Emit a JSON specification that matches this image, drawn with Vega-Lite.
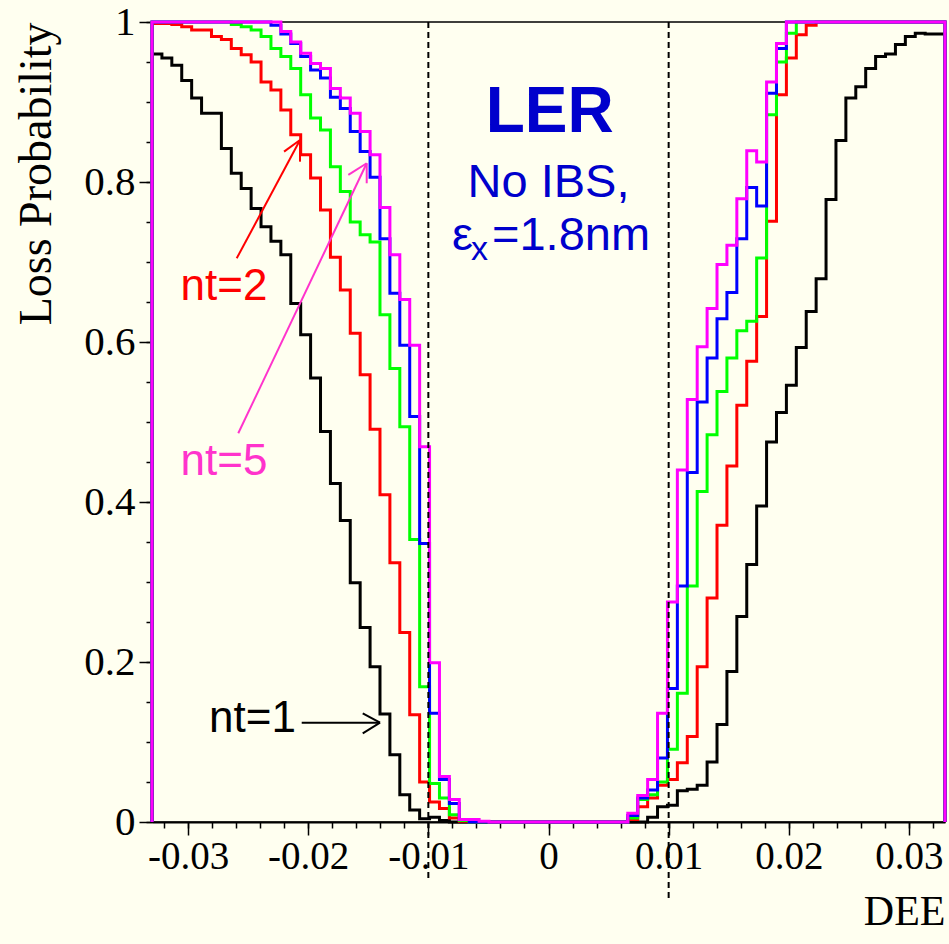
{
"$schema": "https://vega.github.io/schema/vega-lite/v6.json",
"width": 793, "height": 800,
"autosize": {"type": "none"},
"padding": {"left": 152, "top": 22, "right": 4, "bottom": 122},
"background": "#fffff0",
"config": {"view": {"stroke": "#000000", "strokeWidth": 1.5}, "font": "Liberation Serif"},
"datasets": {
"hist": [
{"nt":"1","i":-1,"x":-0.033,"p":0},{"nt":"1","i":0,"x":-0.033,"p":0.96},{"nt":"1","i":1,"x":-0.032175,"p":0.955},{"nt":"1","i":2,"x":-0.03135,"p":0.946},{"nt":"1","i":3,"x":-0.030525,"p":0.927},{"nt":"1","i":4,"x":-0.0297,"p":0.905},{"nt":"1","i":5,"x":-0.028875,"p":0.886},{"nt":"1","i":7,"x":-0.027225,"p":0.842},{"nt":"1","i":8,"x":-0.0264,"p":0.811},{"nt":"1","i":9,"x":-0.025575,"p":0.792},{"nt":"1","i":10,"x":-0.02475,"p":0.767},{"nt":"1","i":11,"x":-0.023925,"p":0.744},{"nt":"1","i":12,"x":-0.0231,"p":0.726},{"nt":"1","i":13,"x":-0.022275,"p":0.709},{"nt":"1","i":14,"x":-0.02145,"p":0.648},{"nt":"1","i":15,"x":-0.020625,"p":0.609},{"nt":"1","i":16,"x":-0.0198,"p":0.555},{"nt":"1","i":17,"x":-0.018975,"p":0.488},{"nt":"1","i":18,"x":-0.01815,"p":0.423},{"nt":"1","i":19,"x":-0.017325,"p":0.377},{"nt":"1","i":20,"x":-0.0165,"p":0.299},{"nt":"1","i":21,"x":-0.015675,"p":0.243},{"nt":"1","i":22,"x":-0.01485,"p":0.194},{"nt":"1","i":23,"x":-0.014025,"p":0.135},{"nt":"1","i":24,"x":-0.0132,"p":0.084},{"nt":"1","i":25,"x":-0.012375,"p":0.034},{"nt":"1","i":26,"x":-0.01155,"p":0.015},{"nt":"1","i":27,"x":-0.010725,"p":0.004},{"nt":"1","i":28,"x":-0.0099,"p":0.006},{"nt":"1","i":29,"x":-0.009075,"p":0.002},{"nt":"1","i":30,"x":-0.00825,"p":0},{"nt":"1","i":50,"x":0.00825,"p":0.006},{"nt":"1","i":51,"x":0.009075,"p":0.019},{"nt":"1","i":52,"x":0.0099,"p":0.021},{"nt":"1","i":53,"x":0.010725,"p":0.039},{"nt":"1","i":54,"x":0.01155,"p":0.041},{"nt":"1","i":55,"x":0.012375,"p":0.046},{"nt":"1","i":56,"x":0.0132,"p":0.075},{"nt":"1","i":57,"x":0.014025,"p":0.122},{"nt":"1","i":58,"x":0.01485,"p":0.188},{"nt":"1","i":59,"x":0.015675,"p":0.257},{"nt":"1","i":60,"x":0.0165,"p":0.322},{"nt":"1","i":61,"x":0.017325,"p":0.395},{"nt":"1","i":62,"x":0.01815,"p":0.475},{"nt":"1","i":63,"x":0.018975,"p":0.512},{"nt":"1","i":64,"x":0.0198,"p":0.546},{"nt":"1","i":65,"x":0.020625,"p":0.593},{"nt":"1","i":66,"x":0.02145,"p":0.638},{"nt":"1","i":67,"x":0.022275,"p":0.679},{"nt":"1","i":68,"x":0.0231,"p":0.778},{"nt":"1","i":69,"x":0.023925,"p":0.852},{"nt":"1","i":70,"x":0.02475,"p":0.905},{"nt":"1","i":71,"x":0.025575,"p":0.919},{"nt":"1","i":72,"x":0.0264,"p":0.942},{"nt":"1","i":73,"x":0.027225,"p":0.957},{"nt":"1","i":74,"x":0.02805,"p":0.96},{"nt":"1","i":75,"x":0.028875,"p":0.972},{"nt":"1","i":76,"x":0.0297,"p":0.982},{"nt":"1","i":77,"x":0.030525,"p":0.986},{"nt":"1","i":78,"x":0.03135,"p":0.985},{"nt":"1","i":80,"x":0.033,"p":0.985},{"nt":"1","i":81,"x":0.033,"p":0},
{"nt":"2","i":-1,"x":-0.033,"p":0},{"nt":"2","i":0,"x":-0.033,"p":0.998},{"nt":"2","i":2,"x":-0.03135,"p":0.997},{"nt":"2","i":3,"x":-0.030525,"p":0.994},{"nt":"2","i":4,"x":-0.0297,"p":0.99},{"nt":"2","i":6,"x":-0.02805,"p":0.982},{"nt":"2","i":7,"x":-0.027225,"p":0.978},{"nt":"2","i":8,"x":-0.0264,"p":0.967},{"nt":"2","i":9,"x":-0.025575,"p":0.959},{"nt":"2","i":10,"x":-0.02475,"p":0.95},{"nt":"2","i":11,"x":-0.023925,"p":0.925},{"nt":"2","i":12,"x":-0.0231,"p":0.915},{"nt":"2","i":13,"x":-0.022275,"p":0.89},{"nt":"2","i":14,"x":-0.02145,"p":0.859},{"nt":"2","i":15,"x":-0.020625,"p":0.834},{"nt":"2","i":16,"x":-0.0198,"p":0.805},{"nt":"2","i":17,"x":-0.018975,"p":0.765},{"nt":"2","i":18,"x":-0.01815,"p":0.706},{"nt":"2","i":19,"x":-0.017325,"p":0.665},{"nt":"2","i":20,"x":-0.0165,"p":0.611},{"nt":"2","i":21,"x":-0.015675,"p":0.559},{"nt":"2","i":22,"x":-0.01485,"p":0.491},{"nt":"2","i":23,"x":-0.014025,"p":0.409},{"nt":"2","i":24,"x":-0.0132,"p":0.324},{"nt":"2","i":25,"x":-0.012375,"p":0.237},{"nt":"2","i":26,"x":-0.01155,"p":0.134},{"nt":"2","i":27,"x":-0.010725,"p":0.05},{"nt":"2","i":28,"x":-0.0099,"p":0.025},{"nt":"2","i":29,"x":-0.009075,"p":0.017},{"nt":"2","i":30,"x":-0.00825,"p":0.005},{"nt":"2","i":31,"x":-0.007425,"p":0.001},{"nt":"2","i":32,"x":-0.0066,"p":0},{"nt":"2","i":48,"x":0.0066,"p":0.003},{"nt":"2","i":49,"x":0.007425,"p":0.019},{"nt":"2","i":50,"x":0.00825,"p":0.03},{"nt":"2","i":51,"x":0.009075,"p":0.046},{"nt":"2","i":52,"x":0.0099,"p":0.053},{"nt":"2","i":53,"x":0.010725,"p":0.074},{"nt":"2","i":54,"x":0.01155,"p":0.107},{"nt":"2","i":55,"x":0.012375,"p":0.194},{"nt":"2","i":56,"x":0.0132,"p":0.28},{"nt":"2","i":57,"x":0.014025,"p":0.371},{"nt":"2","i":58,"x":0.01485,"p":0.445},{"nt":"2","i":59,"x":0.015675,"p":0.521},{"nt":"2","i":60,"x":0.0165,"p":0.576},{"nt":"2","i":61,"x":0.017325,"p":0.632},{"nt":"2","i":62,"x":0.01815,"p":0.751},{"nt":"2","i":63,"x":0.018975,"p":0.909},{"nt":"2","i":64,"x":0.0198,"p":0.955},{"nt":"2","i":65,"x":0.020625,"p":0.984},{"nt":"2","i":66,"x":0.02145,"p":0.996},{"nt":"2","i":67,"x":0.022275,"p":1},{"nt":"2","i":80,"x":0.033,"p":1},{"nt":"2","i":81,"x":0.033,"p":0},
{"nt":"3","i":-1,"x":-0.033,"p":0},{"nt":"3","i":0,"x":-0.033,"p":1},{"nt":"3","i":8,"x":-0.0264,"p":0.997},{"nt":"3","i":9,"x":-0.025575,"p":0.994},{"nt":"3","i":10,"x":-0.02475,"p":0.99},{"nt":"3","i":11,"x":-0.023925,"p":0.982},{"nt":"3","i":12,"x":-0.0231,"p":0.967},{"nt":"3","i":13,"x":-0.022275,"p":0.957},{"nt":"3","i":14,"x":-0.02145,"p":0.942},{"nt":"3","i":15,"x":-0.020625,"p":0.909},{"nt":"3","i":16,"x":-0.0198,"p":0.88},{"nt":"3","i":17,"x":-0.018975,"p":0.865},{"nt":"3","i":18,"x":-0.01815,"p":0.819},{"nt":"3","i":19,"x":-0.017325,"p":0.788},{"nt":"3","i":20,"x":-0.0165,"p":0.75},{"nt":"3","i":21,"x":-0.015675,"p":0.734},{"nt":"3","i":22,"x":-0.01485,"p":0.725},{"nt":"3","i":23,"x":-0.014025,"p":0.634},{"nt":"3","i":24,"x":-0.0132,"p":0.567},{"nt":"3","i":25,"x":-0.012375,"p":0.494},{"nt":"3","i":26,"x":-0.01155,"p":0.353},{"nt":"3","i":27,"x":-0.010725,"p":0.169},{"nt":"3","i":28,"x":-0.0099,"p":0.048},{"nt":"3","i":29,"x":-0.009075,"p":0.03},{"nt":"3","i":30,"x":-0.00825,"p":0.009},{"nt":"3","i":31,"x":-0.007425,"p":0.002},{"nt":"3","i":32,"x":-0.0066,"p":0},{"nt":"3","i":48,"x":0.0066,"p":0.005},{"nt":"3","i":49,"x":0.007425,"p":0.028},{"nt":"3","i":50,"x":0.00825,"p":0.034},{"nt":"3","i":51,"x":0.009075,"p":0.05},{"nt":"3","i":52,"x":0.0099,"p":0.091},{"nt":"3","i":53,"x":0.010725,"p":0.161},{"nt":"3","i":54,"x":0.01155,"p":0.295},{"nt":"3","i":55,"x":0.012375,"p":0.413},{"nt":"3","i":56,"x":0.0132,"p":0.484},{"nt":"3","i":57,"x":0.014025,"p":0.538},{"nt":"3","i":58,"x":0.01485,"p":0.58},{"nt":"3","i":59,"x":0.015675,"p":0.614},{"nt":"3","i":60,"x":0.0165,"p":0.626},{"nt":"3","i":61,"x":0.017325,"p":0.705},{"nt":"3","i":62,"x":0.01815,"p":0.884},{"nt":"3","i":63,"x":0.018975,"p":0.95},{"nt":"3","i":64,"x":0.0198,"p":0.986},{"nt":"3","i":65,"x":0.020625,"p":1},{"nt":"3","i":80,"x":0.033,"p":1},{"nt":"3","i":81,"x":0.033,"p":0},
{"nt":"4","i":-1,"x":-0.033,"p":0},{"nt":"4","i":0,"x":-0.033,"p":1},{"nt":"4","i":12,"x":-0.0231,"p":0.996},{"nt":"4","i":13,"x":-0.022275,"p":0.985},{"nt":"4","i":14,"x":-0.02145,"p":0.973},{"nt":"4","i":15,"x":-0.020625,"p":0.957},{"nt":"4","i":16,"x":-0.0198,"p":0.94},{"nt":"4","i":17,"x":-0.018975,"p":0.93},{"nt":"4","i":18,"x":-0.01815,"p":0.906},{"nt":"4","i":19,"x":-0.017325,"p":0.892},{"nt":"4","i":20,"x":-0.0165,"p":0.863},{"nt":"4","i":21,"x":-0.015675,"p":0.838},{"nt":"4","i":22,"x":-0.01485,"p":0.806},{"nt":"4","i":23,"x":-0.014025,"p":0.729},{"nt":"4","i":24,"x":-0.0132,"p":0.661},{"nt":"4","i":25,"x":-0.012375,"p":0.596},{"nt":"4","i":26,"x":-0.01155,"p":0.507},{"nt":"4","i":27,"x":-0.010725,"p":0.348},{"nt":"4","i":28,"x":-0.0099,"p":0.136},{"nt":"4","i":29,"x":-0.009075,"p":0.053},{"nt":"4","i":30,"x":-0.00825,"p":0.023},{"nt":"4","i":31,"x":-0.007425,"p":0.003},{"nt":"4","i":32,"x":-0.0066,"p":0},{"nt":"4","i":48,"x":0.0066,"p":0.008},{"nt":"4","i":49,"x":0.007425,"p":0.03},{"nt":"4","i":50,"x":0.00825,"p":0.04},{"nt":"4","i":51,"x":0.009075,"p":0.08},{"nt":"4","i":52,"x":0.0099,"p":0.167},{"nt":"4","i":53,"x":0.010725,"p":0.295},{"nt":"4","i":54,"x":0.01155,"p":0.437},{"nt":"4","i":55,"x":0.012375,"p":0.525},{"nt":"4","i":56,"x":0.0132,"p":0.58},{"nt":"4","i":57,"x":0.014025,"p":0.629},{"nt":"4","i":58,"x":0.01485,"p":0.662},{"nt":"4","i":59,"x":0.015675,"p":0.729},{"nt":"4","i":60,"x":0.0165,"p":0.793},{"nt":"4","i":61,"x":0.017325,"p":0.77},{"nt":"4","i":62,"x":0.01815,"p":0.911},{"nt":"4","i":63,"x":0.018975,"p":0.967},{"nt":"4","i":64,"x":0.0198,"p":1},{"nt":"4","i":80,"x":0.033,"p":1},{"nt":"4","i":81,"x":0.033,"p":0},
{"nt":"5","i":-1,"x":-0.033,"p":0},{"nt":"5","i":0,"x":-0.033,"p":1},{"nt":"5","i":13,"x":-0.022275,"p":0.988},{"nt":"5","i":14,"x":-0.02145,"p":0.975},{"nt":"5","i":15,"x":-0.020625,"p":0.961},{"nt":"5","i":16,"x":-0.0198,"p":0.948},{"nt":"5","i":17,"x":-0.018975,"p":0.942},{"nt":"5","i":18,"x":-0.01815,"p":0.917},{"nt":"5","i":19,"x":-0.017325,"p":0.905},{"nt":"5","i":20,"x":-0.0165,"p":0.886},{"nt":"5","i":21,"x":-0.015675,"p":0.863},{"nt":"5","i":22,"x":-0.01485,"p":0.834},{"nt":"5","i":23,"x":-0.014025,"p":0.768},{"nt":"5","i":24,"x":-0.0132,"p":0.709},{"nt":"5","i":25,"x":-0.012375,"p":0.653},{"nt":"5","i":26,"x":-0.01155,"p":0.596},{"nt":"5","i":27,"x":-0.010725,"p":0.469},{"nt":"5","i":28,"x":-0.0099,"p":0.199},{"nt":"5","i":29,"x":-0.009075,"p":0.057},{"nt":"5","i":30,"x":-0.00825,"p":0.028},{"nt":"5","i":31,"x":-0.007425,"p":0.003},{"nt":"5","i":33,"x":-0.005775,"p":0.001},{"nt":"5","i":34,"x":-0.00495,"p":0},{"nt":"5","i":48,"x":0.0066,"p":0.011},{"nt":"5","i":49,"x":0.007425,"p":0.033},{"nt":"5","i":50,"x":0.00825,"p":0.053},{"nt":"5","i":51,"x":0.009075,"p":0.136},{"nt":"5","i":52,"x":0.0099,"p":0.275},{"nt":"5","i":53,"x":0.010725,"p":0.44},{"nt":"5","i":54,"x":0.01155,"p":0.528},{"nt":"5","i":55,"x":0.012375,"p":0.594},{"nt":"5","i":56,"x":0.0132,"p":0.642},{"nt":"5","i":57,"x":0.014025,"p":0.697},{"nt":"5","i":58,"x":0.01485,"p":0.721},{"nt":"5","i":59,"x":0.015675,"p":0.779},{"nt":"5","i":60,"x":0.0165,"p":0.839},{"nt":"5","i":61,"x":0.017325,"p":0.825},{"nt":"5","i":62,"x":0.01815,"p":0.925},{"nt":"5","i":63,"x":0.018975,"p":0.973},{"nt":"5","i":64,"x":0.0198,"p":1},{"nt":"5","i":80,"x":0.033,"p":1},{"nt":"5","i":81,"x":0.033,"p":0}
],
"arrow2": [{"x":-0.02595,"y":0.7046,"x2":-0.02068,"y2":0.8525},{"x":-0.02201,"y":0.8379,"x2":-0.02068,"y2":0.8525},{"x":-0.02068,"y":0.8254,"x2":-0.02068,"y2":0.8525}],
"arrow5": [{"x":-0.02582,"y":0.4859,"x2":-0.01513,"y2":0.8234},{"x":-0.01666,"y":0.8088,"x2":-0.01513,"y2":0.8234},{"x":-0.01513,"y":0.7984,"x2":-0.01513,"y2":0.8234}],
"arrow1": [{"x":-0.02054,"y":0.1241,"x2":-0.01402,"y2":0.1241},{"x":-0.01546,"y":0.1359,"x2":-0.01402,"y2":0.1241},{"x":-0.01546,"y":0.1109,"x2":-0.01402,"y2":0.1241}],
"dash": [{"x":-0.01,"top":1,"bot":-0.073},{"x":0.01,"top":1,"bot":-0.095}],
"one": [{}]
},
"resolve": {"axis": {"x": "independent", "y": "independent"}},
"layer": [
{
"data": {"name": "hist"},
"mark": {"type": "line", "interpolate": "step-after", "strokeWidth": 3},
"encoding": {
"x": {"field": "x", "type": "quantitative", "scale": {"domain": [-0.033, 0.033], "nice": false, "zero": false},
"axis": {"orient": "bottom", "values": [-0.03,-0.02,-0.01,0,0.01,0.02,0.03], "labelExpr": "'' + datum.value", "grid": false,
"domainColor": "#000000", "domainWidth": 2, "tickColor": "#000000", "tickWidth": 1.5, "tickSize": 13,
"labelFont": "Liberation Serif", "labelFontSize": 39, "labelColor": "#000000", "labelPadding": 2, "labelFlush": false, "labelOverlap": false,
"title": "DEE", "titleFont": "Liberation Serif", "titleFontSize": 42, "titleFontWeight": "normal", "titleColor": "#000000",
"titleAnchor": "end", "titleAlign": "right", "titleBaseline": "alphabetic", "titleX": 793, "titleY": 102}},
"y": {"field": "p", "type": "quantitative", "scale": {"domain": [0, 1], "nice": false, "zero": false},
"axis": {"orient": "left", "values": [0,0.2,0.4,0.6,0.8,1], "labelExpr": "'' + datum.value", "grid": false,
"domainColor": "#000000", "domainWidth": 2, "tickColor": "#000000", "tickWidth": 1.5, "tickSize": 13,
"labelFont": "Liberation Serif", "labelFontSize": 41, "labelColor": "#000000", "labelPadding": 4, "labelFlush": false, "labelOverlap": false,
"title": "Loss Probability", "titleFont": "Liberation Serif", "titleFontSize": 46, "titleFontWeight": "normal", "titleColor": "#000000",
"titleAngle": -90, "titleAlign": "right", "titleBaseline": "middle", "titleX": -116, "titleY": 0}},
"color": {"field": "nt", "type": "nominal", "scale": {"domain": ["1","2","3","4","5"], "range": ["#000000","#ff0000","#00ff00","#0000ff","#ff00ff"]}, "legend": null},
"order": {"field": "i", "type": "quantitative"}
}
},
{
"data": {"name": "arrow2"},
"mark": {"type": "rule", "color": "#ff0000", "strokeWidth": 2},
"encoding": {
"x": {"field": "x", "type": "quantitative", "scale": {"domain": [-0.033, 0.033], "nice": false, "zero": false}, "axis": null},
"y": {"field": "y", "type": "quantitative", "scale": {"domain": [0, 1], "nice": false, "zero": false}, "axis": null},
"x2": {"field": "x2"}, "y2": {"field": "y2"}
}
},
{
"data": {"name": "arrow5"},
"mark": {"type": "rule", "color": "#ff33cc", "strokeWidth": 2},
"encoding": {
"x": {"field": "x", "type": "quantitative", "scale": {"domain": [-0.033, 0.033], "nice": false, "zero": false}, "axis": null},
"y": {"field": "y", "type": "quantitative", "scale": {"domain": [0, 1], "nice": false, "zero": false}, "axis": null},
"x2": {"field": "x2"}, "y2": {"field": "y2"}
}
},
{
"data": {"name": "arrow1"},
"mark": {"type": "rule", "color": "#000000", "strokeWidth": 2},
"encoding": {
"x": {"field": "x", "type": "quantitative", "scale": {"domain": [-0.033, 0.033], "nice": false, "zero": false}, "axis": null},
"y": {"field": "y", "type": "quantitative", "scale": {"domain": [0, 1], "nice": false, "zero": false}, "axis": null},
"x2": {"field": "x2"}, "y2": {"field": "y2"}
}
},
{
"data": {"name": "one"},
"mark": {"type": "text", "font": "Liberation Sans", "fontSize": 44, "color": "#ff0000", "align": "center", "baseline": "alphabetic"},
"encoding": {"x": {"datum": -0.02701, "type": "quantitative", "axis": null}, "y": {"datum": 0.6525, "type": "quantitative", "axis": null}, "text": {"value": "nt=2"}}
},
{
"data": {"name": "one"},
"mark": {"type": "text", "font": "Liberation Sans", "fontSize": 44, "color": "#ff33cc", "align": "center", "baseline": "alphabetic"},
"encoding": {"x": {"datum": -0.02701, "type": "quantitative", "axis": null}, "y": {"datum": 0.434, "type": "quantitative", "axis": null}, "text": {"value": "nt=5"}}
},
{
"data": {"name": "one"},
"mark": {"type": "text", "font": "Liberation Sans", "fontSize": 44, "color": "#000000", "align": "center", "baseline": "alphabetic"},
"encoding": {"x": {"datum": -0.02464, "type": "quantitative", "axis": null}, "y": {"datum": 0.1129, "type": "quantitative", "axis": null}, "text": {"value": "nt=1"}}
},
{
"data": {"name": "one"},
"mark": {"type": "text", "font": "Liberation Sans", "fontSize": 64, "fontWeight": "bold", "color": "#0000cc", "align": "center", "baseline": "alphabetic"},
"encoding": {"x": {"datum": 0.0001, "type": "quantitative", "axis": null}, "y": {"datum": 0.8625, "type": "quantitative", "axis": null}, "text": {"value": "LER"}}
},
{
"data": {"name": "one"},
"mark": {"type": "text", "font": "Liberation Sans", "fontSize": 47, "color": "#0000cc", "align": "center", "baseline": "alphabetic"},
"encoding": {"x": {"datum": 0.0, "type": "quantitative", "axis": null}, "y": {"datum": 0.781, "type": "quantitative", "axis": null}, "text": {"value": "No IBS,"}}
},
{
"data": {"name": "one"},
"mark": {"type": "text", "font": "Liberation Sans", "fontSize": 47, "color": "#0000cc", "align": "left", "baseline": "alphabetic"},
"encoding": {"x": {"datum": -0.00803, "type": "quantitative", "axis": null}, "y": {"datum": 0.715, "type": "quantitative", "axis": null}, "text": {"value": "ε"}}
},
{
"data": {"name": "one"},
"mark": {"type": "text", "font": "Liberation Sans", "fontSize": 34, "color": "#0000cc", "align": "left", "baseline": "alphabetic"},
"encoding": {"x": {"datum": -0.00645, "type": "quantitative", "axis": null}, "y": {"datum": 0.703, "type": "quantitative", "axis": null}, "text": {"value": "x"}}
},
{
"data": {"name": "one"},
"mark": {"type": "text", "font": "Liberation Sans", "fontSize": 47, "color": "#0000cc", "align": "left", "baseline": "alphabetic"},
"encoding": {"x": {"datum": -0.0047, "type": "quantitative", "axis": null}, "y": {"datum": 0.715, "type": "quantitative", "axis": null}, "text": {"value": "=1.8nm"}}
},
{
"data": {"name": "dash"},
"mark": {"type": "rule", "color": "#000000", "strokeWidth": 2, "strokeDash": [6, 4]},
"encoding": {
"x": {"field": "x", "type": "quantitative", "scale": {"domain": [-0.033, 0.033], "nice": false, "zero": false},
"axis": {"orient": "bottom", "values": [-0.032,-0.03,-0.028,-0.026,-0.024,-0.022,-0.02,-0.018,-0.016,-0.014,-0.012,-0.01,-0.008,-0.006,-0.004,-0.002,0,0.002,0.004,0.006,0.008,0.01,0.012,0.014,0.016,0.018,0.02,0.022,0.024,0.026,0.028,0.03,0.032],
"labels": false, "domain": false, "grid": false, "tickColor": "#000000", "tickWidth": 1.5, "tickSize": 6, "title": null}},
"y": {"field": "top", "type": "quantitative", "scale": {"domain": [0, 1], "nice": false, "zero": false},
"axis": {"orient": "left", "values": [0,0.05,0.1,0.15,0.2,0.25,0.3,0.35,0.4,0.45,0.5,0.55,0.6,0.65,0.7,0.75,0.8,0.85,0.9,0.95,1],
"labels": false, "domain": false, "grid": false, "tickColor": "#000000", "tickWidth": 1.5, "tickSize": 6, "title": null}},
"y2": {"field": "bot"}
}
}
]
}
